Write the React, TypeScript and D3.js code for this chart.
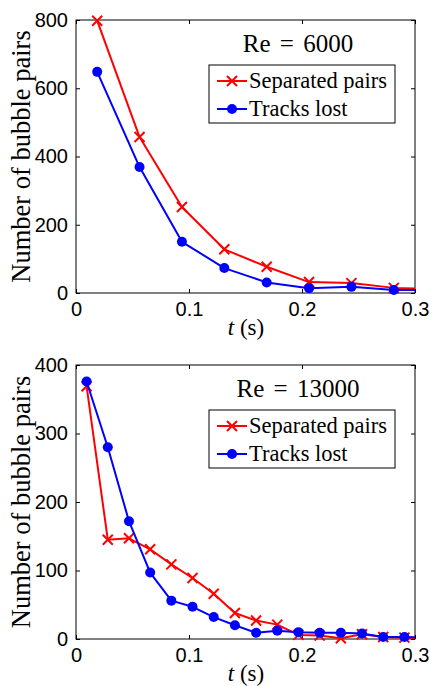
import React, { useEffect, useRef } from "react";
import * as d3 from "d3";

// Re = 6000 panel
const timesA = [0.01875, 0.05625, 0.09375, 0.13125, 0.16875, 0.20625, 0.24375, 0.28125, 0.31875];
const separatedA = [798, 457, 252, 128, 77, 32, 29, 15, 11];
const lostA = [648, 369, 150, 73, 31, 14, 18, 9, 9];
const yTicksA = [0, 200, 400, 600, 800];

// Re = 13000 panel
const timesB = [
  0.009375, 0.028125, 0.046875, 0.065625, 0.084375, 0.103125, 0.121875, 0.140625, 0.159375,
  0.178125, 0.196875, 0.215625, 0.234375, 0.253125, 0.271875, 0.290625, 0.309375,
];
const separatedB = [369, 145, 147, 131, 109, 89, 66, 38, 27, 21, 6, 5, 1, 7, 3, 2, 1];
const lostB = [376, 280, 172, 97, 56, 47, 32, 20, 9, 12, 10, 9, 9, 8, 3, 3, 2];
const yTicksB = [0, 100, 200, 300, 400];

const xTicks = [0, 0.1, 0.2, 0.3];
const seriesNames = ["Separated pairs", "Tracks lost"];
const seriesColors = ["#ff0000", "#0000ff"];

const SERIF = "Liberation Serif";
const SANS = "Liberation Sans";

type Panel = {
  id: string;
  top: number;
  bottom: number;
  yMax: number;
  yTicks: number[];
  times: number[];
  separated: number[];
  lost: number[];
  re: string;
};

const panels: Panel[] = [
  { id: "a", top: 20, bottom: 293, yMax: 800, yTicks: yTicksA, times: timesA, separated: separatedA, lost: lostA, re: "Re = 6000" },
  { id: "b", top: 365, bottom: 639, yMax: 400, yTicks: yTicksB, times: timesB, separated: separatedB, lost: lostB, re: "Re = 13000" },
];

const left = 76;
const right = 415;

function drawPanel(svg: d3.Selection<SVGSVGElement, unknown, null, undefined>, p: Panel) {
  const x = d3.scaleLinear().domain([0, 0.3]).range([left, right]);
  const y = d3.scaleLinear().domain([0, p.yMax]).range([p.bottom, p.top]);

  const g = svg.append("g");

  g.append("clipPath")
    .attr("id", "clip-" + p.id)
    .append("rect")
    .attr("x", left)
    .attr("y", p.top - 10)
    .attr("width", right - left)
    .attr("height", p.bottom - p.top + 20);

  // axes with inward ticks on all four sides
  const tickStyle = (sel: d3.Selection<SVGGElement, unknown, null, undefined>) => {
    sel.attr("font-family", SANS).attr("font-size", 20);
    sel.select(".domain").remove();
    sel.selectAll("line").attr("stroke", "#000");
    sel.selectAll("text").attr("fill", "#000");
  };

  g.append("g")
    .attr("transform", `translate(0,${p.bottom})`)
    .call(d3.axisBottom(x).tickValues(xTicks).tickSize(-4).tickPadding(9).tickFormat((d) => (d === 0 ? "0" : d3.format(".1f")(d as number))))
    .call(tickStyle);
  g.append("g")
    .attr("transform", `translate(0,${p.top})`)
    .call(d3.axisTop(x).tickValues(xTicks).tickSize(-4).tickFormat(() => ""))
    .call(tickStyle);
  g.append("g")
    .attr("transform", `translate(${left},0)`)
    .call(d3.axisLeft(y).tickValues(p.yTicks).tickSize(-4).tickPadding(8).tickFormat(d3.format("d")))
    .call(tickStyle);
  g.append("g")
    .attr("transform", `translate(${right},0)`)
    .call(d3.axisRight(y).tickValues(p.yTicks).tickSize(-4).tickFormat(() => ""))
    .call(tickStyle);

  g.append("rect")
    .attr("x", left)
    .attr("y", p.top)
    .attr("width", right - left)
    .attr("height", p.bottom - p.top)
    .attr("fill", "none")
    .attr("stroke", "#000")
    .attr("stroke-width", 1);

  const line = d3.line<[number, number]>().x((d) => x(d[0])).y((d) => y(d[1]));
  const plot = g.append("g").attr("clip-path", `url(#clip-${p.id})`);

  const seriesData = [p.separated, p.lost];
  seriesData.forEach((vals, si) => {
    const pts: [number, number][] = p.times.map((t, i) => [t, vals[i]]);
    const color = seriesColors[si];
    plot.append("path")
      .attr("d", line(pts))
      .attr("fill", "none")
      .attr("stroke", color)
      .attr("stroke-width", 2)
      .attr("stroke-linejoin", "round");
    const visible = pts.filter((d) => d[0] <= 0.3);
    if (si === 0) {
      const s = 5;
      plot.selectAll(null)
        .data(visible)
        .enter()
        .append("path")
        .attr("d", (d) => {
          const cx = x(d[0]);
          const cy = y(d[1]);
          return `M${cx - s},${cy - s}L${cx + s},${cy + s}M${cx - s},${cy + s}L${cx + s},${cy - s}`;
        })
        .attr("stroke", color)
        .attr("stroke-width", 2);
    } else {
      plot.selectAll(null)
        .data(visible)
        .enter()
        .append("circle")
        .attr("cx", (d) => x(d[0]))
        .attr("cy", (d) => y(d[1]))
        .attr("r", 5)
        .attr("fill", color);
    }
  });

  // Reynolds number annotation
  g.append("text")
    .attr("x", 298)
    .attr("y", p.top + 32)
    .attr("text-anchor", "middle")
    .attr("font-family", SERIF)
    .attr("font-size", 25)
    .attr("word-spacing", 3)
    .text(p.re);

  // legend
  const lx = 209;
  const ly = p.top + 45;
  g.append("rect")
    .attr("x", lx)
    .attr("y", ly)
    .attr("width", 186)
    .attr("height", 58)
    .attr("fill", "#fff")
    .attr("stroke", "#000")
    .attr("stroke-width", 1);
  seriesNames.forEach((name, si) => {
    const cy = ly + 16 + si * 28;
    const color = seriesColors[si];
    g.append("line")
      .attr("x1", lx + 8)
      .attr("x2", lx + 38)
      .attr("y1", cy)
      .attr("y2", cy)
      .attr("stroke", color)
      .attr("stroke-width", 2);
    const mx = lx + 23;
    if (si === 0) {
      const s = 5;
      g.append("path")
        .attr("d", `M${mx - s},${cy - s}L${mx + s},${cy + s}M${mx - s},${cy + s}L${mx + s},${cy - s}`)
        .attr("stroke", color)
        .attr("stroke-width", 2);
    } else {
      g.append("circle").attr("cx", mx).attr("cy", cy).attr("r", 5).attr("fill", color);
    }
    g.append("text")
      .attr("x", lx + 40)
      .attr("y", cy + 7)
      .attr("font-family", SERIF)
      .attr("font-size", 22.5)
      .text(name);
  });

  // axis labels
  const yc = (p.top + p.bottom) / 2;
  g.append("text")
    .attr("transform", `translate(30,${yc}) rotate(-90)`)
    .attr("text-anchor", "middle")
    .attr("font-family", SERIF)
    .attr("font-size", 26.5)
    .text("Number of bubble pairs");

  const xl = g.append("text")
    .attr("x", 246)
    .attr("y", p.bottom + 42)
    .attr("text-anchor", "middle")
    .attr("font-family", SERIF)
    .attr("font-size", 23);
  xl.append("tspan").attr("font-style", "italic").text("t");
  xl.append("tspan").text(" (s)");
}

export default function App() {
  const ref = useRef<SVGSVGElement>(null);

  useEffect(() => {
    if (!ref.current) return;
    const svg = d3.select(ref.current);
    svg.selectAll("*").remove();
    panels.forEach((p) => drawPanel(svg, p));
  }, []);

  return (
    <svg
      ref={ref}
      width={430}
      height={686}
      style={{ position: "absolute", left: 0, top: 0, background: "#fff" }}
    />
  );
}
